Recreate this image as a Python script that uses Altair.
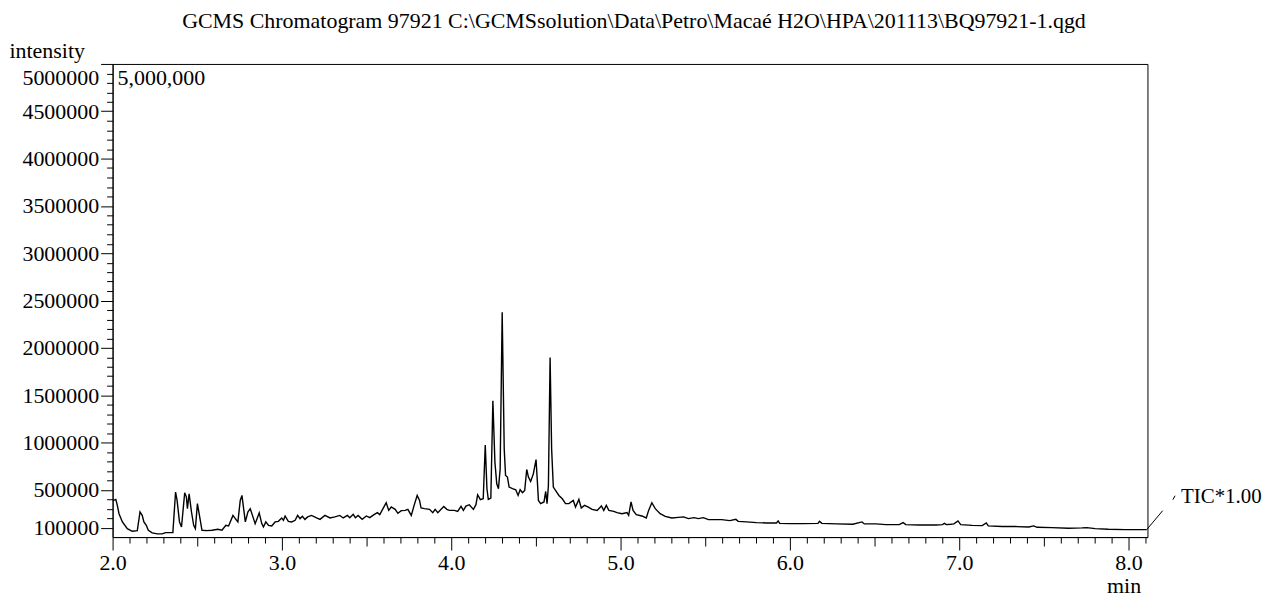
import altair as alt
import pandas as pd

TITLE = "GCMS Chromatogram 97921 C:\\GCMSsolution\\Data\\Petro\\Macaé H2O\\HPA\\201113\\BQ97921-1.qgd"

TIME = [
    2.002, 2.019, 2.028, 2.038, 2.058, 2.087, 2.116, 2.146, 2.162, 2.175, 2.185, 2.199, 2.211, 2.234,
    2.264, 2.293, 2.313, 2.356, 2.372, 2.381, 2.395, 2.407, 2.426, 2.436, 2.442, 2.452, 2.466, 2.479,
    2.489, 2.501, 2.513, 2.528, 2.558, 2.587, 2.622, 2.646, 2.669, 2.685, 2.711, 2.725, 2.740, 2.754,
    2.764, 2.774, 2.784, 2.799, 2.813, 2.826, 2.842, 2.866, 2.881, 2.891, 2.905, 2.921, 2.940, 2.960,
    2.979, 2.999, 3.009, 3.019, 3.038, 3.058, 3.078, 3.093, 3.107, 3.121, 3.136, 3.152,
    3.175, 3.205, 3.225, 3.254, 3.284, 3.313, 3.342, 3.362, 3.387, 3.401, 3.421, 3.434, 3.450, 3.474,
    3.499, 3.519, 3.544, 3.564, 3.578, 3.597, 3.616, 3.631, 3.646, 3.669, 3.685, 3.705, 3.728, 3.744,
    3.764, 3.784, 3.799, 3.813, 3.822, 3.842, 3.872, 3.891, 3.905, 3.921, 3.956, 3.974, 3.989, 4.019,
    4.038, 4.058, 4.072, 4.087, 4.107, 4.131, 4.146, 4.156, 4.172, 4.189,
    4.201, 4.211, 4.219, 4.234, 4.246, 4.258, 4.269, 4.279, 4.289, 4.301, 4.313, 4.321, 4.332, 4.342,
    4.362, 4.381, 4.395, 4.407, 4.421, 4.434, 4.446, 4.456, 4.469, 4.485, 4.501, 4.509, 4.515, 4.528,
    4.548, 4.558, 4.566, 4.574, 4.584, 4.593, 4.603, 4.616, 4.636, 4.656, 4.675, 4.695, 4.721, 4.734,
    4.754, 4.768, 4.787, 4.807, 4.832, 4.862, 4.887, 4.901, 4.916, 4.931, 4.960, 4.979,
    5.009, 5.038, 5.048, 5.062, 5.074, 5.093, 5.126, 5.152, 5.166, 5.185, 5.205, 5.234, 5.264, 5.303,
    5.342, 5.372, 5.401, 5.434, 5.460, 5.489, 5.519, 5.558, 5.597, 5.646, 5.681, 5.695, 5.744, 5.803,
    5.862, 5.921, 5.931, 5.940, 5.999,
    6.078, 6.166, 6.175, 6.189, 6.274, 6.372, 6.426, 6.440, 6.509, 6.568, 6.646, 6.669, 6.685, 6.764,
    6.862, 6.901, 6.913, 6.925, 6.950, 6.969, 6.993, 7.009, 7.078, 7.136,
    7.160, 7.172, 7.254, 7.332, 7.411, 7.440, 7.460, 7.548, 7.646, 7.725, 7.754, 7.803, 7.881, 7.979,
    8.108,
]

INTENSITY = [
    384000, 398000, 335000, 247000, 160000, 89000, 61000, 68000, 265000, 229000, 160000, 124000, 72000, 44000,
    34000, 34000, 47000, 47000, 476000, 387000, 160000, 107000, 468000, 423000, 300000, 458000, 265000, 124000,
    89000, 353000, 229000, 72000, 68000, 72000, 82000, 72000, 124000, 118000, 229000, 195000, 160000, 387000,
    440000, 300000, 160000, 265000, 300000, 229000, 142000, 255000, 142000, 107000, 160000, 124000, 118000, 160000,
    166000, 202000, 177000, 223000, 166000, 160000, 177000, 229000, 195000, 219000, 187000, 213000,
    229000, 202000, 187000, 229000, 202000, 213000, 229000, 202000, 229000, 205000, 240000, 205000, 229000, 187000,
    223000, 205000, 237000, 258000, 237000, 300000, 363000, 282000, 318000, 293000, 251000, 279000, 282000, 293000,
    229000, 353000, 440000, 387000, 307000, 300000, 293000, 258000, 293000, 258000, 324000, 293000, 282000, 282000,
    272000, 324000, 282000, 328000, 342000, 293000, 342000, 447000, 395000, 405000,
    974000, 511000, 398000, 413000, 1440000, 792000, 563000, 511000, 721000, 2377000, 932000, 651000, 634000, 528000,
    511000, 500000, 440000, 500000, 468000, 493000, 714000, 634000, 587000, 668000, 819000, 581000, 387000, 353000,
    371000, 482000, 353000, 545000, 1897000, 932000, 528000, 493000, 440000, 405000, 353000, 353000, 387000, 318000,
    398000, 307000, 335000, 318000, 293000, 282000, 328000, 282000, 335000, 282000, 272000, 258000,
    247000, 258000, 229000, 371000, 282000, 237000, 223000, 202000, 282000, 363000, 300000, 247000, 219000, 202000,
    208000, 213000, 195000, 205000, 195000, 205000, 184000, 184000, 184000, 174000, 187000, 166000, 160000, 153000,
    149000, 149000, 171000, 145000, 142000,
    142000, 145000, 166000, 145000, 139000, 135000, 160000, 139000, 139000, 132000, 132000, 153000, 132000, 128000,
    128000, 132000, 145000, 132000, 135000, 139000, 171000, 132000, 124000, 121000,
    149000, 118000, 111000, 111000, 107000, 118000, 103000, 100000, 93000, 97000, 100000, 89000, 82000, 79000,
    79000,
]

Y_LABELS = [100000, 500000, 1000000, 1500000, 2000000, 2500000, 3000000, 3500000, 4000000, 4500000, 5000000]
X_LABELS = [2.0, 3.0, 4.0, 5.0, 6.0, 7.0, 8.0]
X_MIN, X_MAX = 2.0, 8.112
Y_MIN, Y_MAX = 0, 5000000

# TIC label connector (data units)
TIC_SEG_T = [8.108, 8.262]
TIC_SEG_T2 = [8.202, 8.275]
TIC_SEG_I = [79000, 395000]
TIC_SEG_I2 = [279000, 437000]
TIC_LABEL = "TIC*1.00"
TIC_LABEL_T, TIC_LABEL_I = 8.31, 426000
SCALE_LABEL = "5,000,000"

FONT = "Liberation Serif"
FS = 22

df = pd.DataFrame({"t": TIME, "i": INTENSITY})

x_ticks = [round(X_MIN + 0.1 * k, 1) for k in range(62)]
y_ticks = [100000 * k for k in range(1, 51)]

xscale = alt.Scale(domain=[X_MIN, X_MAX], nice=False, zero=False)
yscale = alt.Scale(domain=[Y_MIN, Y_MAX], nice=False, zero=True)

x_major = "abs(datum.value - round(datum.value)) < 0.001"
x_half = "abs(datum.value * 2 - round(datum.value * 2)) < 0.001"
y_labels_js = "[" + ",".join(str(v) for v in Y_LABELS) + "]"
y_major = f"indexof({y_labels_js}, datum.value) >= 0"

xaxis = alt.Axis(
    values=x_ticks,
    labelExpr=f"{x_major} ? format(datum.value, '.1f') : ''",
    labelOverlap=False,
    labelFlush=False,
    labelFont=FONT, labelFontSize=FS, labelColor="black",
    labelPadding=3,
    tickSize={"condition": [{"test": x_major, "value": 13}, {"test": x_half, "value": 9}], "value": 6},
    tickColor="black", domainColor="black", grid=False,
    title="min", titleFont=FONT, titleFontSize=FS, titleFontWeight="normal", titleColor="black",
    titleX=1015, titleY=49, titleAlign="center", titleBaseline="middle",
)

yaxis = alt.Axis(
    values=y_ticks,
    labelExpr=f"{y_major} ? format(datum.value, 'd') : ''",
    labelOverlap=False,
    labelFont=FONT, labelFontSize=FS, labelColor="black",
    labelPadding=2,
    labelFlush=True, labelFlushOffset=-4,
    tickSize={"condition": {"test": y_major, "value": 12}, "value": 6},
    tickColor="black", domainColor="black", grid=False,
    title="intensity", titleFont=FONT, titleFontSize=FS, titleFontWeight="normal", titleColor="black",
    titleAngle=0, titleX=-104, titleY=-13, titleAlign="left", titleBaseline="middle",
)

X_ENC = alt.X("t:Q", scale=xscale, axis=xaxis)
Y_ENC = alt.Y("i:Q", scale=yscale, axis=yaxis)

line = alt.Chart(df).mark_line(color="black", strokeWidth=1.4).encode(x=X_ENC, y=Y_ENC)

seg_df = pd.DataFrame({"t": TIC_SEG_T, "t2": TIC_SEG_T2, "i": TIC_SEG_I, "i2": TIC_SEG_I2})
segs = alt.Chart(seg_df).mark_rule(color="black", strokeWidth=1).encode(
    x=X_ENC, x2="t2:Q", y=Y_ENC, y2="i2:Q",
)

tic_df = pd.DataFrame({"t": [TIC_LABEL_T], "i": [TIC_LABEL_I], "label": [TIC_LABEL]})
tic_text = alt.Chart(tic_df).mark_text(
    font=FONT, fontSize=21, color="black", align="left", baseline="middle"
).encode(x=X_ENC, y=Y_ENC, text="label:N")

sc_df = pd.DataFrame({"t": [X_MIN], "i": [Y_MAX], "label": [SCALE_LABEL]})
sc_text = alt.Chart(sc_df).mark_text(
    font=FONT, fontSize=FS, color="black", align="left", baseline="top", dx=5, dy=4
).encode(x=X_ENC, y=Y_ENC, text="label:N")

chart = alt.layer(line, segs, tic_text, sc_text).properties(
    width=1039,
    height=475,
    title=alt.TitleParams(TITLE, font=FONT, fontSize=FS, fontWeight="normal", color="black",
                          anchor="middle", offset=7, dx=4),
    autosize=alt.AutoSizeParams(type="none"),
    padding={"left": 105, "top": 55, "right": 115, "bottom": 60},
    background="white",
).configure_view(stroke="black", strokeWidth=1)

chart.save("out.html", embed_options={"renderer": "svg", "actions": False})
